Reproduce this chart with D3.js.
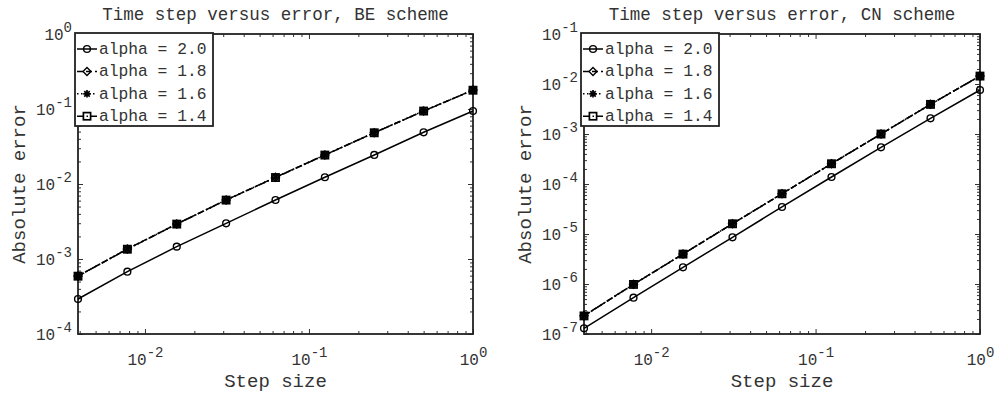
<!DOCTYPE html>
<html>
<head>
<meta charset="utf-8">
<script src="https://cdn.jsdelivr.net/npm/d3@7"></script>
<style>
  html, body { margin: 0; padding: 0; background: #fff; }
  svg { display: block; }
  text { font-family: "Liberation Mono", "Courier New", monospace; fill: #333; }
</style>
</head>
<body>
<svg id="chart" width="1000" height="394"></svg>
<script>
// ---- data ----
const steps = [1/256, 1/128, 1/64, 1/32, 1/16, 1/8, 1/4, 1/2, 1];
const seriesNames = ["alpha = 2.0", "alpha = 1.8", "alpha = 1.6", "alpha = 1.4"];

const beAlpha20 = [2.93e-4, 6.77e-4, 1.46e-3, 2.99e-3, 6.12e-3, 1.23e-2, 2.44e-2, 4.89e-2, 9.4e-2];
const beAlpha18 = [5.93e-4, 1.36e-3, 2.93e-3, 6.12e-3, 1.23e-2, 2.44e-2, 4.83e-2, 9.4e-2, 0.179];
const beAlpha16 = [5.92e-4, 1.36e-3, 2.92e-3, 6.11e-3, 1.23e-2, 2.44e-2, 4.83e-2, 9.4e-2, 0.179];
const beAlpha14 = [5.90e-4, 1.35e-3, 2.92e-3, 6.10e-3, 1.22e-2, 2.43e-2, 4.82e-2, 9.39e-2, 0.178];

const cnAlpha20 = [1.30e-7, 5.32e-7, 2.16e-6, 8.6e-6, 3.47e-5, 1.38e-4, 5.42e-4, 2.06e-3, 7.59e-3];
const cnAlpha18 = [2.32e-7, 9.86e-7, 3.98e-6, 1.61e-5, 6.4e-5, 2.55e-4, 1.0e-3, 3.93e-3, 1.45e-2];
const cnAlpha16 = [2.31e-7, 9.84e-7, 3.97e-6, 1.61e-5, 6.39e-5, 2.55e-4, 1.0e-3, 3.92e-3, 1.45e-2];
const cnAlpha14 = [2.30e-7, 9.80e-7, 3.96e-6, 1.60e-5, 6.37e-5, 2.54e-4, 9.98e-4, 3.91e-3, 1.44e-2];

const xTickValues = [1e-2, 1e-1, 1e0];
const beYTickValues = [1e-4, 1e-3, 1e-2, 1e-1, 1e0];
const cnYTickValues = [1e-7, 1e-6, 1e-5, 1e-4, 1e-3, 1e-2, 1e-1];

const titles = ["Time step versus error, BE scheme", "Time step versus error, CN scheme"];
const xLabel = "Step size";
const yLabel = "Absolute error";

// ---- styles ----
const styles = [
  { dash: null, marker: "circle" },
  { dash: "6,3", marker: "diamond" },
  { dash: "1.5,2.5", marker: "asterisk" },
  { dash: "7,2.5,1.5,2.5", marker: "square" }
];

const svg = d3.select("#chart");

function minorTicks(domain) {
  const lo = Math.floor(Math.log10(domain[0])), hi = Math.ceil(Math.log10(domain[1]));
  const out = [];
  for (let e = lo; e < hi; e++) {
    for (let m = 2; m <= 9; m++) {
      const v = m * Math.pow(10, e);
      if (v >= domain[0] * 0.999 && v <= domain[1] * 1.001) out.push(v);
    }
  }
  return out;
}

function drawMarker(g, type, cx, cy) {
  if (type === "circle") {
    g.append("circle").attr("cx", cx).attr("cy", cy).attr("r", 3.4)
      .attr("fill", "none").attr("stroke", "#000").attr("stroke-width", 1.4);
  } else if (type === "diamond") {
    const s = 4;
    g.append("path").attr("d", `M${cx},${cy - s}L${cx + s},${cy}L${cx},${cy + s}L${cx - s},${cy}Z`)
      .attr("fill", "none").attr("stroke", "#000").attr("stroke-width", 1.4);
  } else if (type === "asterisk") {
    const s = 3.8, d = s * 0.72;
    g.append("path").attr("d",
      `M${cx - s},${cy}L${cx + s},${cy}M${cx},${cy - s}L${cx},${cy + s}` +
      `M${cx - d},${cy - d}L${cx + d},${cy + d}M${cx - d},${cy + d}L${cx + d},${cy - d}`)
      .attr("fill", "none").attr("stroke", "#000").attr("stroke-width", 1.7);
  } else if (type === "square") {
    const s = 3.6;
    g.append("rect").attr("x", cx - s).attr("y", cy - s).attr("width", 2 * s).attr("height", 2 * s)
      .attr("fill", "none").attr("stroke", "#000").attr("stroke-width", 1.7);
  }
}

function supLabel(sel, d) {
  const e = Math.round(Math.log10(d));
  sel.text(null);
  sel.append("tspan").text("10");
  sel.append("tspan").attr("dy", -8).attr("font-size", 14).text(String(e));
}

function panel(opts) {
  const { left, right, top, bottom, yDomain, yTicks, data, title } = opts;
  const x = d3.scaleLog().domain([steps[0], 1]).range([left, right]);
  const y = d3.scaleLog().domain(yDomain).range([bottom, top]);
  const g = svg.append("g");

  // minor ticks, all four sides (inward)
  const xm = minorTicks(x.domain()), ym = minorTicks(y.domain());
  const mk = (axis, tv, size, tx) => {
    const a = g.append("g").attr("transform", tx)
      .call(axis.tickValues(tv).tickSize(size).tickFormat(""));
    a.select(".domain").remove();
    a.selectAll(".tick line").attr("stroke", "#333").attr("stroke-width", 1);
    return a;
  };
  mk(d3.axisBottom(x), xm, -3, `translate(0,${bottom})`);
  mk(d3.axisTop(x), xm, -3, `translate(0,${top})`);
  mk(d3.axisLeft(y), ym, -3, `translate(${left},0)`);
  mk(d3.axisRight(y), ym, -3, `translate(${right},0)`);
  mk(d3.axisTop(x), xTickValues, -5, `translate(0,${top})`);
  mk(d3.axisRight(y), yTicks, -5, `translate(${right},0)`);

  // major ticks with labels
  const xa = g.append("g").attr("transform", `translate(0,${bottom})`)
    .call(d3.axisBottom(x).tickValues(xTickValues).tickSize(-5));
  xa.select(".domain").remove();
  xa.selectAll(".tick line").attr("stroke", "#333").attr("stroke-width", 1);
  xa.selectAll(".tick text").attr("y", 31).attr("dy", 0).attr("font-size", 16)
    .attr("fill", "#333").attr("text-anchor", "middle")
    .each(function (d) { supLabel(d3.select(this), d); });

  const ya = g.append("g").attr("transform", `translate(${left},0)`)
    .call(d3.axisLeft(y).tickValues(yTicks).tickSize(-5));
  ya.select(".domain").remove();
  ya.selectAll(".tick line").attr("stroke", "#333").attr("stroke-width", 1);
  ya.selectAll(".tick text").attr("x", -6).attr("dy", 0).attr("y", 5.5).attr("font-size", 16)
    .attr("fill", "#333").attr("text-anchor", "end")
    .each(function (d) { supLabel(d3.select(this), d); });

  // frame
  g.append("rect").attr("x", left).attr("y", top).attr("width", right - left).attr("height", bottom - top)
    .attr("fill", "none").attr("stroke", "#222").attr("stroke-width", 1.8);

  // series
  const line = d3.line().x(d => x(d[0])).y(d => y(d[1]));
  data.forEach((vals, i) => {
    const pts = steps.map((s, j) => [s, vals[j]]);
    g.append("path").attr("d", line(pts)).attr("fill", "none").attr("stroke", "#000")
      .attr("stroke-width", 1.5).attr("stroke-dasharray", styles[i].dash);
    pts.forEach(p => drawMarker(g, styles[i].marker, x(p[0]), y(p[1])));
  });

  // title and axis labels
  g.append("text").attr("x", (left + right) / 2).attr("y", 20).attr("text-anchor", "middle")
    .attr("font-size", 17.5).text(title);
  g.append("text").attr("x", (left + right) / 2).attr("y", 387).attr("text-anchor", "middle")
    .attr("font-size", 19).text(xLabel);
  g.append("text").attr("transform", `translate(${left - 53},${(top + bottom) / 2}) rotate(-90)`)
    .attr("text-anchor", "middle").attr("font-size", 19).text(yLabel);

  // legend
  const lx = left - 3, ly = top - 1, lw = 138, lh = 93;
  const lg = g.append("g");
  lg.append("rect").attr("x", lx).attr("y", ly).attr("width", lw).attr("height", lh)
    .attr("fill", "#fff").attr("stroke", "#222").attr("stroke-width", 1.8);
  seriesNames.forEach((name, i) => {
    const cy = ly + 16 + i * 22.4;
    lg.append("line").attr("x1", lx + 2).attr("x2", lx + 22).attr("y1", cy).attr("y2", cy)
      .attr("stroke", "#000").attr("stroke-width", 1.5).attr("stroke-dasharray", styles[i].dash);
    drawMarker(lg, styles[i].marker, lx + 12, cy);
    lg.append("text").attr("x", lx + 24).attr("y", cy + 5).attr("font-size", 16.3).text(name);
  });
}

panel({ left: 78, right: 473, top: 34, bottom: 334, yDomain: [1e-4, 1], yTicks: beYTickValues,
  data: [beAlpha20, beAlpha18, beAlpha16, beAlpha14], title: titles[0] });
panel({ left: 584, right: 980, top: 34, bottom: 334, yDomain: [1e-7, 1e-1], yTicks: cnYTickValues,
  data: [cnAlpha20, cnAlpha18, cnAlpha16, cnAlpha14], title: titles[1] });
</script>
</body>
</html>
